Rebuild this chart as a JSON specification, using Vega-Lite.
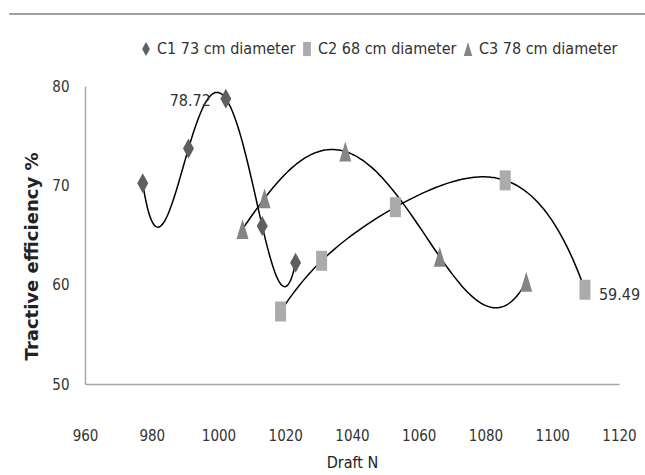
{
  "$schema": "https://vega.github.io/schema/vega-lite/v6.json",
  "width": 534,
  "height": 298,
  "autosize": "none",
  "padding": {"left": 85, "top": 86, "right": 26, "bottom": 91},
  "background": "white",
  "config": {
    "view": {"stroke": null},
    "font": "DejaVu Sans Condensed, Liberation Sans, sans-serif",
    "axis": {"grid": false, "ticks": false, "domainColor": "#a6a6a6", "domainWidth": 1.5, "labelFont": "DejaVu Sans Condensed, Liberation Sans, sans-serif", "labelFontSize": 15, "labelColor": "#333333"},
    "legend": {"labelFont": "DejaVu Sans Condensed, Liberation Sans, sans-serif", "labelFontSize": 16, "labelColor": "#333333"}
  },
  "data": {
    "values": [
      {"series": "C1 73 cm diameter", "draft": 977.3, "eff": 70.2},
      {"series": "C1 73 cm diameter", "draft": 991.0, "eff": 73.7},
      {"series": "C1 73 cm diameter", "draft": 1002.2, "eff": 78.72, "label": "78.72"},
      {"series": "C1 73 cm diameter", "draft": 1013.1, "eff": 65.9},
      {"series": "C1 73 cm diameter", "draft": 1023.1, "eff": 62.2},
      {"series": "C2 68 cm diameter", "draft": 1018.6, "eff": 57.3},
      {"series": "C2 68 cm diameter", "draft": 1030.9, "eff": 62.4},
      {"series": "C2 68 cm diameter", "draft": 1053.0, "eff": 67.8},
      {"series": "C2 68 cm diameter", "draft": 1085.9, "eff": 70.5},
      {"series": "C2 68 cm diameter", "draft": 1109.8, "eff": 59.49, "label": "59.49"},
      {"series": "C3 78 cm diameter", "draft": 1007.2, "eff": 65.6},
      {"series": "C3 78 cm diameter", "draft": 1013.8, "eff": 68.7},
      {"series": "C3 78 cm diameter", "draft": 1038.0, "eff": 73.4},
      {"series": "C3 78 cm diameter", "draft": 1066.3, "eff": 62.8},
      {"series": "C3 78 cm diameter", "draft": 1092.2, "eff": 60.3}
    ]
  },
  "layer": [
    {
      "mark": {"type": "rule", "color": "#a0a0a0", "strokeWidth": 2},
      "encoding": {
        "y": {"datum": 87.25, "type": "quantitative", "scale": {"domain": [50, 80], "nice": false}},
        "x": {"datum": 937.5, "type": "quantitative", "scale": {"domain": [960, 1120], "nice": false}},
        "x2": {"datum": 1135}
      }
    },
    {
      "transform": [{"regression": "eff", "on": "draft", "groupby": ["series"], "method": "poly", "order": 4}],
      "mark": {"type": "line", "color": "black", "strokeWidth": 1.5, "interpolate": "monotone"},
      "encoding": {
        "x": {"field": "draft", "type": "quantitative", "scale": {"domain": [960, 1120], "nice": false}},
        "y": {"field": "eff", "type": "quantitative", "scale": {"domain": [50, 80], "nice": false}},
        "detail": {"field": "series"}
      }
    },
    {
      "mark": {"type": "point", "filled": true, "opacity": 1, "size": 400},
      "encoding": {
        "x": {"field": "draft", "type": "quantitative", "scale": {"domain": [960, 1120], "nice": false}, "axis": {"values": [960, 980, 1000, 1020, 1040, 1060, 1080, 1100, 1120], "format": "d", "labelFlush": false, "labelPadding": 44, "title": "Draft N", "titleFont": "DejaVu Sans Condensed, Liberation Sans, sans-serif", "titleFontSize": 16, "titleFontWeight": "normal", "titleColor": "#222222", "titlePadding": 11}},
        "y": {"field": "eff", "type": "quantitative", "scale": {"domain": [50, 80], "nice": false}, "axis": {"values": [50, 60, 70, 80], "labelFlush": false, "labelPadding": 16, "title": "Tractive efficiency %", "titleFont": "DejaVu Sans", "titleFontSize": 18, "titleFontWeight": "bold", "titleColor": "#222222", "titleX": -44, "titleY": 170}},
        "shape": {"field": "series", "type": "nominal", "scale": {"range": ["M0,-1L0.55,0L0,1L-0.55,0Z", "M-0.55,-1H0.55V1H-0.55Z", "M0,-1L0.6,1L-0.6,1Z"]}, "legend": {"title": null, "orient": "none", "direction": "horizontal", "legendX": 53, "legendY": -45, "symbolSize": 200, "symbolStrokeWidth": 0, "labelOffset": 3, "columnPadding": 3}},
        "color": {"field": "series", "type": "nominal", "scale": {"range": ["#5f5f5f", "#ababab", "#858585"]}}
      }
    },
    {
      "transform": [{"filter": "datum.label === '78.72'"}],
      "mark": {"type": "text", "align": "right", "dx": -15, "dy": 2, "fontSize": 16, "font": "DejaVu Sans Condensed, Liberation Sans, sans-serif", "color": "#333333"},
      "encoding": {
        "x": {"field": "draft", "type": "quantitative", "scale": {"domain": [960, 1120], "nice": false}},
        "y": {"field": "eff", "type": "quantitative", "scale": {"domain": [50, 80], "nice": false}},
        "text": {"field": "label", "type": "nominal"}
      }
    },
    {
      "transform": [{"filter": "datum.label === '59.49'"}],
      "mark": {"type": "text", "align": "left", "dx": 14, "dy": 5, "fontSize": 16, "font": "DejaVu Sans Condensed, Liberation Sans, sans-serif", "color": "#333333"},
      "encoding": {
        "x": {"field": "draft", "type": "quantitative", "scale": {"domain": [960, 1120], "nice": false}},
        "y": {"field": "eff", "type": "quantitative", "scale": {"domain": [50, 80], "nice": false}},
        "text": {"field": "label", "type": "nominal"}
      }
    }
  ]
}
